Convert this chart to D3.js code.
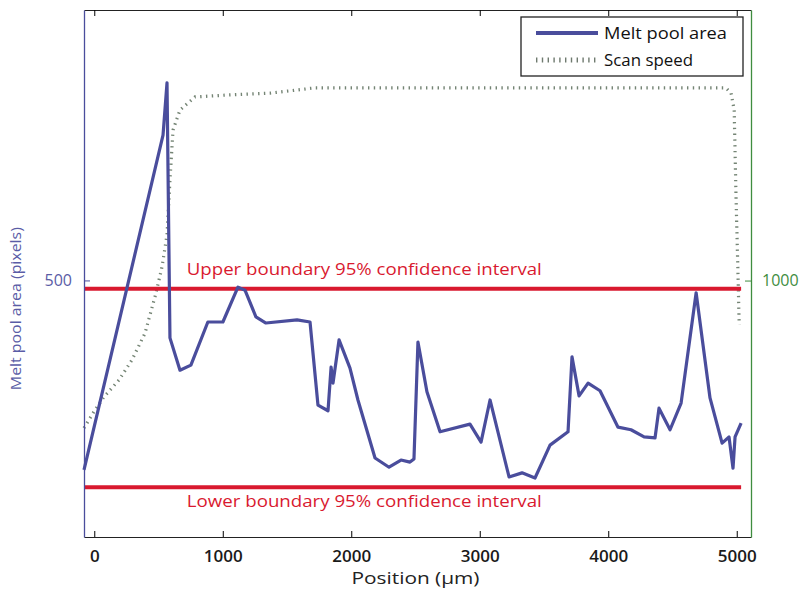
<!DOCTYPE html>
<html>
<head>
<meta charset="utf-8">
<script src="https://cdn.jsdelivr.net/npm/d3@7"></script>
<style>
  body { margin: 0; background: #fff; }
  text { font-family: "Open Sans", "Noto Sans", sans-serif; }
</style>
</head>
<body>
<div id="chart-area"></div>
<script>
/*
*    melt pool chart
*/
// melt pool area (left axis, pixels)
var areaPos = [-80, 535, 566, 589, 667, 752, 884, 1001, 1118, 1173, 1258, 1336, 1578, 1679, 1741, 1819, 1843, 1858, 1905, 1990, 2052, 2185, 2294, 2387, 2457, 2488, 2519, 2589, 2691, 2924, 3010, 3080, 3228, 3329, 3430, 3547, 3687, 3718, 3773, 3843, 3936, 4076, 4177, 4279, 4364, 4395, 4481, 4567, 4684, 4792, 4886, 4940, 4971, 4987, 5034];
var areaVal = [131, 783, 885, 388, 325, 335, 419, 419, 487, 481, 429, 417, 423, 419, 257, 246, 331, 300, 384, 329, 267, 154, 136, 150, 146, 152, 380, 283, 205, 220, 185, 267, 117, 125, 115, 179, 205, 351, 275, 300, 285, 214, 209, 195, 193, 251, 209, 261, 476, 271, 183, 195, 134, 195, 222];

// scan speed (right axis)
var speedPos = [-80, 5, 75, 192, 293, 395, 480, 527, 566, 589, 613, 667, 784, 1056, 1368, 1578, 1710, 2500, 3500, 4500, 4917, 4956, 4980, 4995, 5011, 5019];
var speedVal = [425, 495, 546, 612, 690, 795, 951, 1053, 1178, 1392, 1587, 1665, 1716, 1724, 1731, 1743, 1751, 1751, 1751, 1751, 1751, 1731, 1665, 1314, 1002, 827];

// 95% confidence boundaries of the area
var upperBound = 484;
var lowerBound = 97;
var boundStart = -80;
var boundEnd = 5034;

var xTicks = [0, 1000, 2000, 3000, 4000, 5000];
var leftTicks = [500];
var rightTicks = [1000];

var margin = {top: 10, bottom: 52, left: 84, right: 53};
var width = 804 - margin.left - margin.right;
var height = 589 - margin.top - margin.bottom;

var blue = "#4a4d9c";
var green = "#3f8d3f";
var red = "#d9192f";

var svg = d3.select("#chart-area").append("svg")
    .attr("width", 804)
    .attr("height", 589);

var g = svg.append("g")
    .attr("transform", "translate(" + margin.left + ", " + margin.top + ")");

var x = d3.scaleLinear()
    .domain([-80, 5111])
    .range([0, width]);

var yLeft = d3.scaleLinear()
    .domain([0, 1027])
    .range([height, 0]);

var yRight = d3.scaleLinear()
    .domain([0, 2055])
    .range([height, 0]);

// scan speed, dotted
var speedLine = d3.line()
    .x((d, i) => x(speedPos[i]))
    .y((d) => yRight(d));

g.append("path")
    .datum(speedVal)
    .attr("d", speedLine)
    .attr("fill", "none")
    .attr("stroke", "#748474")
    .attr("stroke-width", 3.2)
    .attr("stroke-dasharray", "1.4,4.4");

// confidence lines
[upperBound, lowerBound].forEach((b) => {
    g.append("line")
        .attr("x1", x(boundStart))
        .attr("x2", x(boundEnd))
        .attr("y1", yLeft(b))
        .attr("y2", yLeft(b))
        .attr("stroke", red)
        .attr("stroke-width", 4);
});

// melt pool area
var areaLine = d3.line()
    .x((d, i) => x(areaPos[i]))
    .y((d) => yLeft(d));

g.append("path")
    .datum(areaVal)
    .attr("d", areaLine)
    .attr("fill", "none")
    .attr("stroke", blue)
    .attr("stroke-width", 3.2)
    .attr("stroke-linejoin", "round");

g.append("text")
    .attr("x", x(720))
    .attr("y", yLeft(upperBound) - 14)
    .attr("fill", red)
    .attr("font-size", "17px")
    .attr("textLength", 355)
    .attr("lengthAdjust", "spacingAndGlyphs")
    .text("Upper boundary 95% confidence interval");

g.append("text")
    .attr("x", x(720))
    .attr("y", yLeft(lowerBound) + 20)
    .attr("fill", red)
    .attr("font-size", "17px")
    .attr("textLength", 355)
    .attr("lengthAdjust", "spacingAndGlyphs")
    .text("Lower boundary 95% confidence interval");

// axes
var bottomAxis = d3.axisBottom(x)
    .tickValues(xTicks)
    .tickSizeInner(-6)
    .tickSizeOuter(0)
    .tickPadding(13)
    .tickFormat(d3.format("d"));
var bx = g.append("g")
    .attr("class", "bottom axis")
    .attr("transform", "translate(0, " + height + ")")
    .call(bottomAxis);
bx.selectAll("text")
    .attr("font-size", "17px")
    .attr("font-family", "Open Sans")
    .attr("font-weight", 600)
    .attr("fill", "#1a1a1a");

var topAxis = d3.axisTop(x)
    .tickValues(xTicks)
    .tickSizeInner(-6)
    .tickSizeOuter(0)
    .tickFormat("");
g.append("g")
    .attr("class", "top axis")
    .call(topAxis);

var leftAxis = d3.axisLeft(yLeft)
    .tickValues(leftTicks)
    .tickSizeInner(-6)
    .tickSizeOuter(0)
    .tickPadding(12)
    .tickFormat(d3.format("d"));
var lx = g.append("g")
    .attr("class", "left axis")
    .call(leftAxis);
lx.select(".domain").attr("stroke", blue).attr("stroke-width", 1.3);
lx.selectAll("line").attr("stroke", blue);
lx.selectAll("text")
    .attr("font-size", "16px")
    .attr("font-family", "Open Sans")
    .attr("fill", "#5a5ca6");

var rightAxis = d3.axisRight(yRight)
    .tickValues(rightTicks)
    .tickSizeInner(-6)
    .tickSizeOuter(0)
    .tickPadding(11)
    .tickFormat(d3.format("d"));
var rx = g.append("g")
    .attr("class", "right axis")
    .attr("transform", "translate(" + width + ", 0)")
    .call(rightAxis);
rx.select(".domain").attr("stroke", green).attr("stroke-width", 1.3);
rx.selectAll("line").attr("stroke", green);
rx.selectAll("text")
    .attr("font-size", "16px")
    .attr("font-family", "Open Sans")
    .attr("fill", green);

bx.select(".domain").attr("stroke", "#222");
g.select(".top.axis .domain").attr("stroke", "#222");

g.append("text")
    .attr("class", "x axis-label")
    .attr("x", x(2500))
    .attr("y", height + 47)
    .attr("font-size", "17px")
    .attr("text-anchor", "middle")
    .attr("fill", "#222")
    .attr("textLength", 128)
    .attr("lengthAdjust", "spacingAndGlyphs")
    .text("Position (\u00b5m)");

g.append("text")
    .attr("class", "y axis-label")
    .attr("x", -(yLeft(445)))
    .attr("y", -63)
    .attr("font-size", "15px")
    .attr("text-anchor", "middle")
    .attr("transform", "rotate(-90)")
    .attr("fill", "#5a5ca6")
    .attr("textLength", 163)
    .attr("lengthAdjust", "spacingAndGlyphs")
    .text("Melt pool area (pixels)");

// legend
var lg = svg.append("g")
    .attr("transform", "translate(521, 17)");
lg.append("rect")
    .attr("width", 222)
    .attr("height", 59)
    .attr("fill", "#fff")
    .attr("stroke", "#222")
    .attr("stroke-width", 1.3);
lg.append("line")
    .attr("x1", 15).attr("x2", 77)
    .attr("y1", 16).attr("y2", 16)
    .attr("stroke", blue)
    .attr("stroke-width", 4);
lg.append("line")
    .attr("x1", 15).attr("x2", 77)
    .attr("y1", 43).attr("y2", 43)
    .attr("stroke", "#6f7a6f")
    .attr("stroke-width", 5)
    .attr("stroke-dasharray", "1.4,4.4");
lg.append("text")
    .attr("x", 83).attr("y", 22)
    .attr("font-size", "17px")
    .attr("fill", "#111")
    .attr("textLength", 123)
    .attr("lengthAdjust", "spacingAndGlyphs")
    .text("Melt pool area");
lg.append("text")
    .attr("x", 83).attr("y", 49)
    .attr("font-size", "17px")
    .attr("fill", "#111")
    .attr("textLength", 89)
    .attr("lengthAdjust", "spacingAndGlyphs")
    .text("Scan speed");
</script>
</body>
</html>
